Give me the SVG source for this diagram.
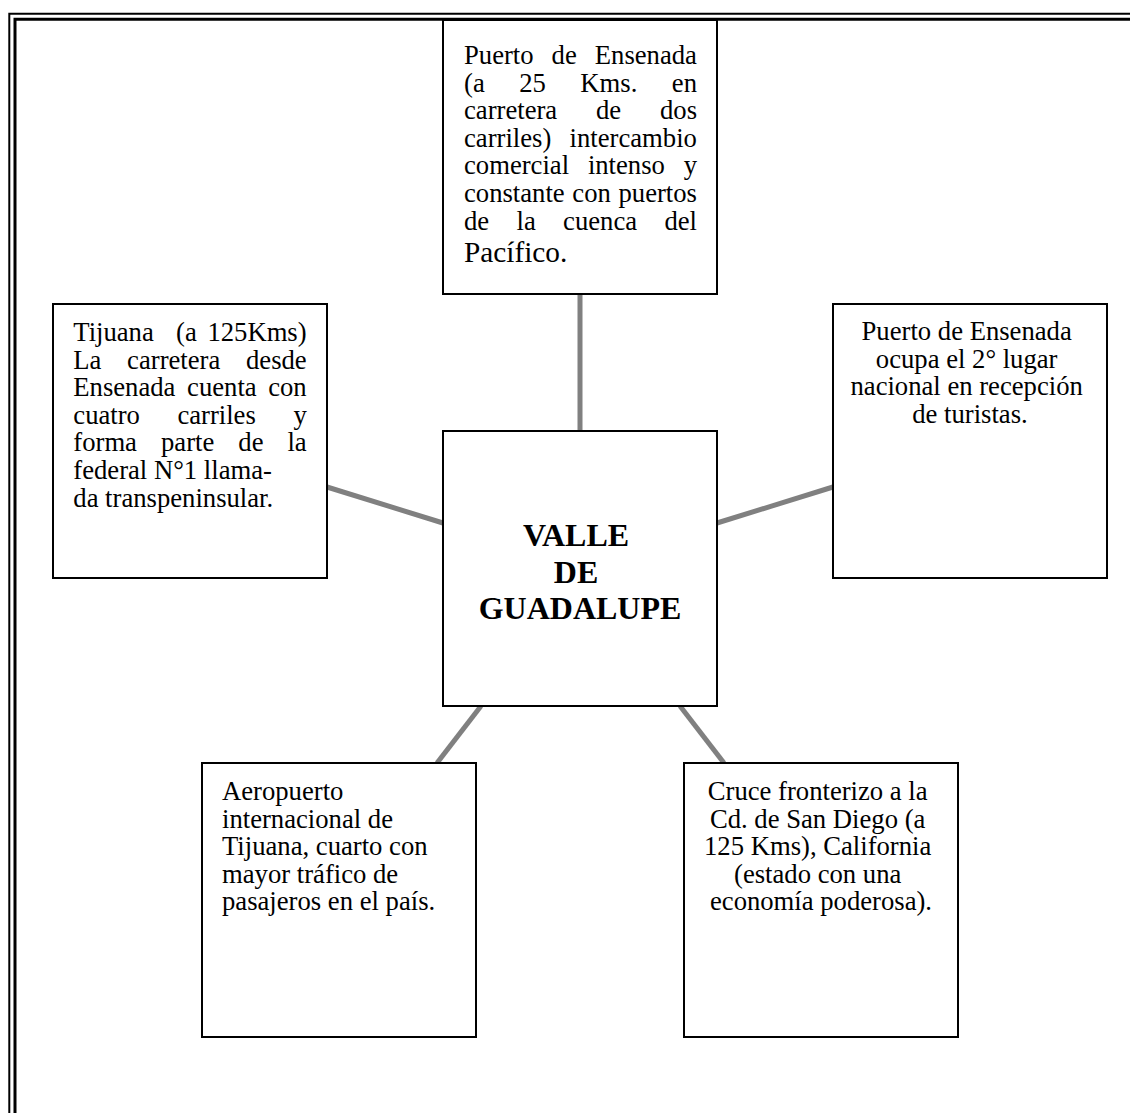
<svg xmlns="http://www.w3.org/2000/svg" width="1130" height="1113" viewBox="0 0 1130 1113">
  <style>
    .t { font-family: "Liberation Serif", "Times New Roman", serif; font-size: 26.67px; fill: #000; }
    .big { font-size: 29.3px; }
    .c { text-anchor: middle; }
    .title { font-family: "Liberation Serif", "Times New Roman", serif; font-size: 32px; font-weight: bold; fill: #000; text-anchor: middle; }
    .box { fill: #fff; stroke: #000; stroke-width: 2; }
    .link { stroke: #808080; stroke-width: 5; fill: none; }
    .frame { fill: none; stroke: #000; }
  </style>
  <rect width="1130" height="1113" fill="#fff"/>

  <!-- page border: thin outer rule, heavier inner rule -->
  <g id="page-border">
    <path class="frame" d="M9.3,1113 V13.8 H1130" stroke-width="2"/>
    <path class="frame" d="M15,1113 V19.3 H1130" stroke-width="3"/>
  </g>

  <!-- spokes from the centre box -->
  <g id="connectors">
    <line class="link" x1="580" y1="294" x2="580" y2="431"/>
    <line class="link" x1="327" y1="487" x2="443" y2="523"/>
    <line class="link" x1="717" y1="523" x2="833" y2="487"/>
    <line class="link" x1="481" y1="706" x2="437" y2="763"/>
    <line class="link" x1="680" y1="706" x2="724" y2="763"/>
  </g>

  <g id="node-puerto-top">
    <rect class="box" x="443" y="20" width="274" height="274"/>
    <text class="t">
      <tspan x="464" y="64">Puerto</tspan><tspan x="551.6" y="64">de</tspan><tspan x="594.8" y="64">Ensenada</tspan>
      <tspan x="464" y="91.6">(a</tspan><tspan x="519.2" y="91.6">25</tspan><tspan x="580.3" y="91.6">Kms.</tspan><tspan x="671.8" y="91.6">en</tspan>
      <tspan x="464" y="119.2">carretera</tspan><tspan x="596" y="119.2">de</tspan><tspan x="660" y="119.2">dos</tspan>
      <tspan x="464" y="146.8">carriles)</tspan><tspan x="569.6" y="146.8">intercambio</tspan>
      <tspan x="464" y="174.4">comercial</tspan><tspan x="587.9" y="174.4">intenso</tspan><tspan x="683.7" y="174.4">y</tspan>
      <tspan x="464" y="202">constante</tspan><tspan x="572.3" y="202">con</tspan><tspan x="618.5" y="202">puertos</tspan>
      <tspan x="464" y="229.6">de</tspan><tspan x="516.5" y="229.6">la</tspan><tspan x="563.1" y="229.6">cuenca</tspan><tspan x="664.4" y="229.6">del</tspan>
    </text>
    <text class="t big" x="464" y="262">Pacífico.</text>
  </g>

  <g id="node-tijuana">
    <rect class="box" x="53" y="304" width="274" height="274"/>
    <text class="t">
      <tspan x="73.3" y="341">Tijuana</tspan><tspan x="176.1" y="341">(a</tspan><tspan x="207.4" y="341">125Kms)</tspan>
      <tspan x="73.3" y="368.6">La</tspan><tspan x="127.1" y="368.6">carretera</tspan><tspan x="246" y="368.6">desde</tspan>
      <tspan x="73.3" y="396.2">Ensenada</tspan><tspan x="187.1" y="396.2">cuenta</tspan><tspan x="268.2" y="396.2">con</tspan>
      <tspan x="73.3" y="423.8">cuatro</tspan><tspan x="177.4" y="423.8">carriles</tspan><tspan x="293.4" y="423.8">y</tspan>
      <tspan x="73.3" y="451.4">forma</tspan><tspan x="161" y="451.4">parte</tspan><tspan x="238.3" y="451.4">de</tspan><tspan x="287.4" y="451.4">la</tspan>
      <tspan x="73.3" y="479">federal N°1 llama-</tspan>
      <tspan x="73.3" y="506.6">da transpeninsular.</tspan>
    </text>
  </g>

  <g id="node-turistas">
    <rect class="box" x="833" y="304" width="274" height="274"/>
    <text class="t c">
      <tspan x="970" y="340">Puerto de Ensenada</tspan>
      <tspan x="970" y="367.6">ocupa el 2° lugar</tspan>
      <tspan x="970" y="395.2">nacional en recepción</tspan>
      <tspan x="970" y="422.8">de turistas.</tspan>
    </text>
  </g>

  <g id="node-valle">
    <rect class="box" x="443" y="431" width="274" height="275"/>
    <text class="title">
      <tspan x="580" y="546">VALLE</tspan>
      <tspan x="580" y="582.7">DE</tspan>
      <tspan x="580" y="619.3">GUADALUPE</tspan>
    </text>
  </g>

  <g id="node-aeropuerto">
    <rect class="box" x="202" y="763" width="274" height="274"/>
    <text class="t">
      <tspan x="222" y="800">Aeropuerto</tspan>
      <tspan x="222" y="827.6">internacional de</tspan>
      <tspan x="222" y="855.2">Tijuana, cuarto con</tspan>
      <tspan x="222" y="882.8">mayor tráfico de</tspan>
      <tspan x="222" y="910.4">pasajeros en el país.</tspan>
    </text>
  </g>

  <g id="node-cruce">
    <rect class="box" x="684" y="763" width="274" height="274"/>
    <text class="t c">
      <tspan x="821" y="800">Cruce fronterizo a la</tspan>
      <tspan x="821" y="827.6">Cd. de San Diego (a</tspan>
      <tspan x="821" y="855.2">125 Kms), California</tspan>
      <tspan x="821" y="882.8">(estado con una</tspan>
      <tspan x="821" y="910.4">economía poderosa).</tspan>
    </text>
  </g>
</svg>
